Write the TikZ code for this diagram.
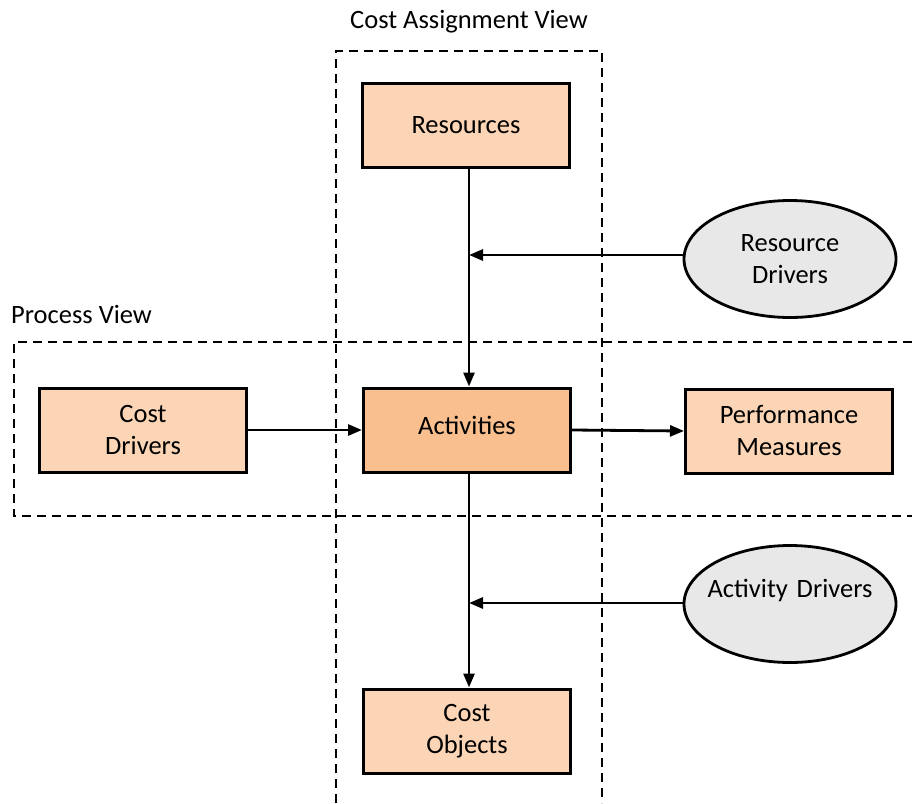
\documentclass[tikz,border=0pt]{standalone}
\usepackage{fontspec}
\setmainfont{Carlito}
\usetikzlibrary{shapes.geometric,arrows.meta}
\definecolor{lightor}{HTML}{FBD5B5}
\definecolor{midor}{HTML}{F9BF8F}
\definecolor{ellgray}{HTML}{E8E8E8}
\begin{document}
\begin{tikzpicture}[x=1pt,y=-1pt,
  font=\fontsize{26.5}{32}\selectfont,
  box/.style={draw=black,line width=3pt,fill=lightor,minimum width=207pt,minimum height=84pt,inner sep=0pt,align=center},
  drv/.style={draw=black,line width=2.8pt,fill=ellgray,ellipse,minimum width=212pt,minimum height=117pt,inner ysep=0pt,inner xsep=-12pt,text width=172pt,align=center},
  frame/.style={draw=black,line width=2.2pt,dash pattern=on 9pt off 6pt},
  conn/.style={draw=black,line width=2.8pt,-{Triangle[length=14pt,width=11pt]}},
  lbl/.style={inner sep=0pt}]
\useasboundingbox (0,0) rectangle (912,803);
% frames
\draw[frame] (336,803) -- (336,51) -- (602,51) -- (602,803);
\draw[frame] (912,342) -- (14,342) -- (14,516) -- (912,516);
\node[lbl] (cav) at (469,22) {Cost Assignment View};
\node[lbl,anchor=west] (pv) at (11,314) {Process View};
% nodes
\node[box] (res) at (466,125) {Resources};
\node[box,fill=midor] (act) at (467,430) {\raisebox{9pt}{Activities}};
\node[box] (cd) at (143,430) {Cost\\Drivers};
\node[box] (pm) at (789,431) {Performance\\Measures};
\node[box] (co) at (467,731) {Cost\\Objects};
\node[drv] (rd) at (790,259) {Resource\\Drivers};
\node[drv] (ad) at (790,604) {Activity Drivers\\\mbox{}};
% connectors
\coordinate (rj) at (469,255);
\coordinate (aj) at (469,603);
\draw[conn] (res.south -| 469,0) -- (act.north -| 469,0);
\draw[conn] (act.south -| 469,0) -- (co.north -| 469,0);
\draw[conn] (rd.west |- rj) -- (rj);
\draw[conn] (ad.west |- aj) -- (aj);
\draw[conn] (cd.east) -- (act.west);
\draw[conn] (act.east) -- (pm.west);
\end{tikzpicture}
\end{document}
